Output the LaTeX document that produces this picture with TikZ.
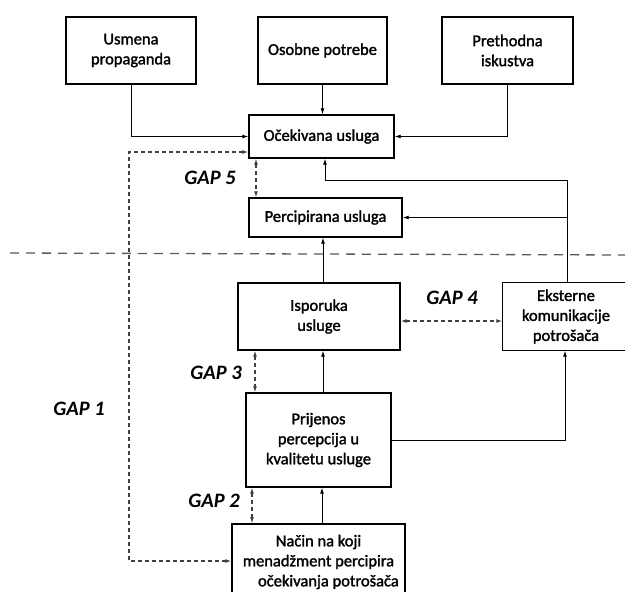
\documentclass[tikz,border=0pt]{standalone}
\usepackage{fontspec}
\setmainfont{Carlito}
\newfontfamily\boxfont{Carlito}[FakeBold=1.6]
\usetikzlibrary{arrows.meta}
\begin{document}
\begin{tikzpicture}[x=1pt,y=-1pt,
  box/.style={draw,line width=1.4pt,inner sep=0pt,align=center,font=\boxfont\fontsize{16.5}{20}\selectfont},
  arr/.style={line width=0.9pt,-{Latex[length=6pt,width=4pt]}},
  gapline/.style={line width=1.1pt,draw=black!75,dash pattern=on 4pt off 3pt,{Latex[length=6pt,width=4pt]}-{Latex[length=6pt,width=4pt]}},
  gaplabel/.style={font=\fontsize{20.5}{24}\selectfont\bfseries\itshape},
  sep/.style={line width=1.3pt,draw=black!65,dash pattern=on 9pt off 7pt}]
\useasboundingbox (0,0) rectangle (625,592);
\fill[white] (0,0) rectangle (625,592);
% boxes
\node[box,minimum width=130pt,minimum height=67pt] (us) at (131,50.5) {Usmena\\propaganda};
\node[box,minimum width=129pt,minimum height=67pt] (os) at (322.5,50.5) {Osobne potrebe};
\node[box,minimum width=131pt,minimum height=67pt] (pr) at (507.5,50.5) {Prethodna\\iskustva};
\node[box,minimum width=145pt,minimum height=43pt] (oc) at (321.5,136.5) {Očekivana usluga};
\node[box,minimum width=153pt,minimum height=39pt] (pe) at (325.5,217.5) {Percipirana usluga};
\node[box,minimum width=162pt,minimum height=67pt] (is) at (319,316.5) {Isporuka\\usluge};
\node[box,draw=none,minimum width=126pt,minimum height=67pt] (ek) at (566,316.5) {Eksterne\\komunikacije\\potrošača};
\draw[line width=1.4pt] ([xshift=20pt]ek.north east) -- (ek.north west) -- (ek.south west) -- ([xshift=20pt]ek.south east);
\node[box,minimum width=145pt,minimum height=94pt] (pj) at (318.5,440) {Prijenos\\percepcija u\\kvalitetu usluge};
\node[box,minimum width=173pt,minimum height=76pt] (na) at (318.5,562) {Način na koji\\menadžment percipira\\\hspace*{1.2em}očekivanja potrošača};
% separator
\coordinate (s1) at (10,253);
\coordinate (s2) at (625,255);
\draw[sep] (s1) -- (s2);
% connectors
\draw[arr] (us.south) |- (oc.west);
\draw[arr] (os.south) -- (os.south|-oc.north);
\draw[arr] (pr.south) |- (oc.east);
\coordinate (k1) at (567,180);
\coordinate (k2) at (325,180);
\draw[arr] (ek.north-|k1) -- (k1) -- (k2) -- (k2|-oc.south);
\draw[arr] (k1|-pe.east) -- (pe.east);
\draw[arr] ([xshift=4pt]is.north) -- ([xshift=4pt]is.north|-pe.south);
\draw[arr] ([xshift=4.5pt]pj.north) -- ([xshift=4.5pt]pj.north|-is.south);
\draw[arr] ([xshift=3.5pt]na.north) -- ([xshift=3.5pt]na.north|-pj.south);
\coordinate (k3) at (565,440);
\draw[arr] (pj.east|-k3) -- (k3) -- (k3|-ek.south);
% gaps
\coordinate (g5) at (256,0);
\draw[gapline] (g5|-oc.south) -- (g5|-pe.north);
\coordinate (g4) at (0,321);
\draw[gapline] (is.east|-g4) -- (ek.west|-g4);
\coordinate (g3) at (255,0);
\draw[gapline] (g3|-is.south) -- (g3|-pj.north);
\coordinate (g2) at (252,0);
\draw[gapline] (g2|-pj.south) -- (g2|-na.north);
\coordinate (g1a) at (129,561);
\coordinate (g1b) at (129,152);
\draw[gapline] (na.west|-g1a) -- (g1a) -- (g1b) -- (oc.west|-g1b);
% labels
\node[gaplabel] (l5) at (210,178) {GAP 5};
\node[gaplabel] (l4) at (452,298) {GAP 4};
\node[gaplabel] (l3) at (216,373) {GAP 3};
\node[gaplabel] (l2) at (214,501) {GAP 2};
\node[gaplabel] (l1) at (79,409) {GAP 1};
\end{tikzpicture}
\end{document}
